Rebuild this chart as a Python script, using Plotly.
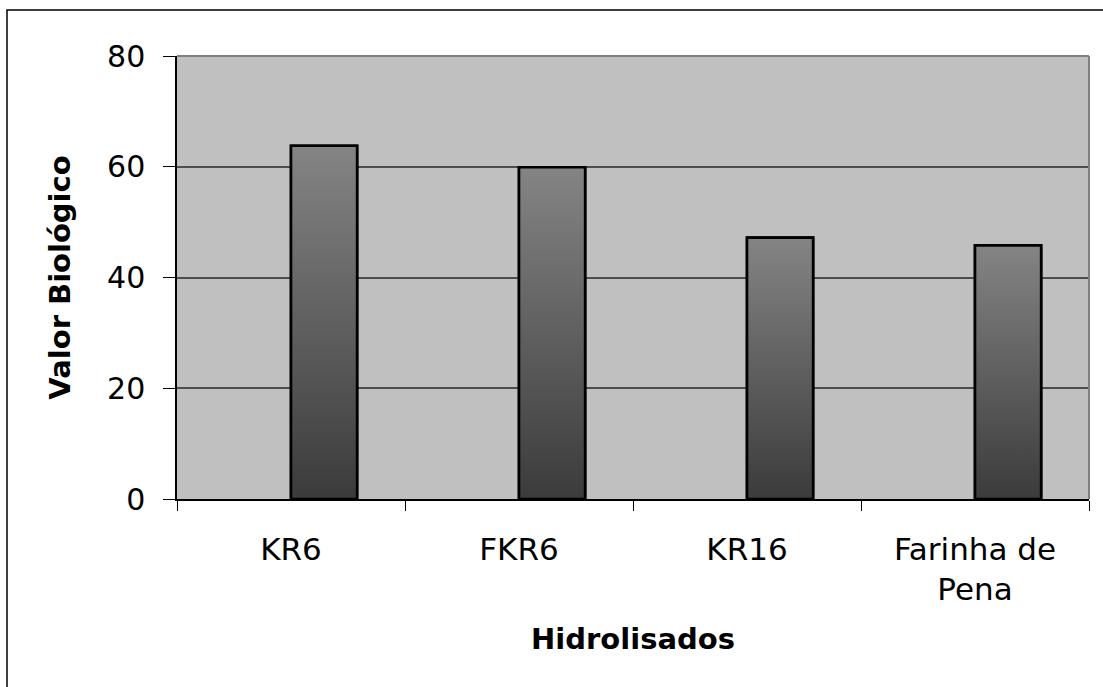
import plotly.graph_objects as go

# Biological value of each hydrolysate
categories = ["KR6", "FKR6", "KR16", "Farinha de<br>Pena"]
valor_biologico = [63.8, 59.9, 47.2, 45.8]
y_ticks = [0, 20, 40, 60, 80]

BAR_WIDTH = 0.29
FONT = "DejaVu Sans"
GRADIENT = [[0, "#3b3b3b"], [1, "#848484"]]

x_pos = list(range(len(categories)))
boundaries = [p - 0.5 for p in x_pos] + [x_pos[-1] + 0.5]

fig = go.Figure()

# gradient fill and outline of each bar (dark at the base, lighter at the top)
for xi, v in zip(x_pos, valor_biologico):
    fig.add_trace(go.Scatter(
        x=[xi, xi + BAR_WIDTH, xi + BAR_WIDTH, xi, xi],
        y=[0, 0, v, v, 0],
        mode="lines",
        line=dict(width=2.6, color="black"),
        fill="toself",
        fillgradient=dict(type="vertical", colorscale=GRADIENT),
        hoverinfo="skip",
        showlegend=False,
    ))

# bars carrying the values (hover), transparent so the gradient shows
fig.add_trace(go.Bar(
    x=x_pos,
    y=valor_biologico,
    offset=0,
    width=BAR_WIDTH,
    marker=dict(color="rgba(0,0,0,0)", line=dict(color="black", width=2.6)),
    showlegend=False,
))

fig.update_layout(
    width=1103,
    height=687,
    margin=dict(l=177, r=14, t=56, b=188),
    paper_bgcolor="white",
    plot_bgcolor="#c0c0c0",
    showlegend=False,
    xaxis=dict(
        range=[boundaries[0], boundaries[-1]],
        tickmode="array",
        tickvals=x_pos,
        ticktext=categories,
        ticks="",
        ticklabelstandoff=22,
        showgrid=False,
        zeroline=False,
        showline=True,
        linecolor="black",
        linewidth=1.5,
        minor=dict(
            tickmode="array",
            tickvals=boundaries,
            ticks="outside",
            ticklen=10,
            tickwidth=1.3,
            tickcolor="black",
            showgrid=False,
        ),
        tickfont=dict(family=FONT, size=31, color="black"),
        title=dict(
            text="Hidrolisados",
            font=dict(family=FONT, size=29, color="black", weight="bold"),
            standoff=22,
        ),
        automargin=False,
    ),
    yaxis=dict(
        range=[y_ticks[0], y_ticks[-1]],
        tickmode="array",
        tickvals=y_ticks,
        ticks="outside",
        ticklen=12,
        tickwidth=1.3,
        tickcolor="black",
        ticklabelstandoff=12,
        showgrid=True,
        gridcolor="#4d4d4d",
        gridwidth=1.6,
        zeroline=False,
        showline=True,
        linecolor="black",
        linewidth=1.5,
        tickfont=dict(family=FONT, size=30, color="black"),
        title=dict(
            text="Valor Biológico",
            font=dict(family=FONT, size=29, color="black", weight="bold"),
            standoff=28,
        ),
        automargin=False,
    ),
    shapes=[
        # light top and right edges of the plot area
        dict(type="line", xref="paper", yref="paper", x0=0, x1=1, y0=1, y1=1,
             line=dict(color="#7f7f7f", width=2), layer="above"),
        dict(type="line", xref="paper", yref="paper", x0=1, x1=1, y0=0, y1=1,
             line=dict(color="#7f7f7f", width=2), layer="above"),
        # outer chart frame
        dict(type="rect", xref="paper", yref="paper",
             x0=-0.1864, x1=1.03, y0=-0.45, y1=1.1038,
             line=dict(color="black", width=1.5), fillcolor="rgba(0,0,0,0)",
             layer="above"),
    ],
)

fig.write_html("out.html")
